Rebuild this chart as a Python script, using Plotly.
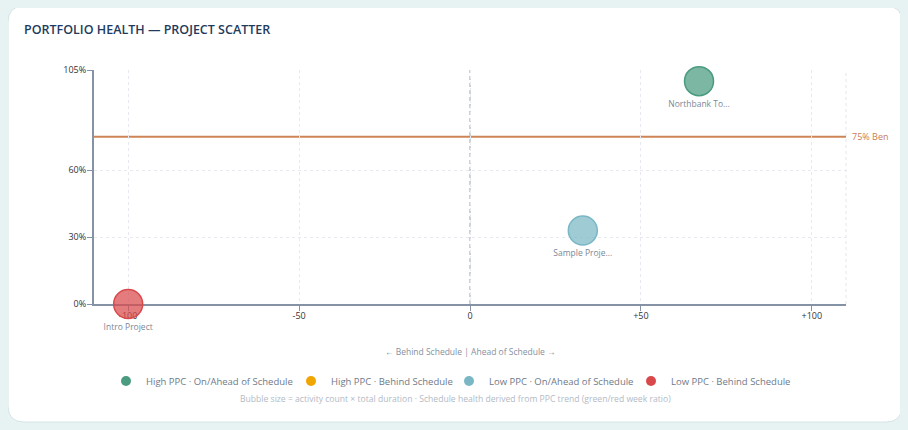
import plotly.graph_objects as go

# Project data
projects = ["Northbank To...", "Sample Proje...", "Intro Project"]
schedule_delta = [67, 33, -100]
ppc_pct = [100, 33, 0]
project_group = ["High PPC · On/Ahead of Schedule",
                 "Low PPC · On/Ahead of Schedule",
                 "Low PPC · Behind Schedule"]

groups = ["High PPC · On/Ahead of Schedule",
          "High PPC · Behind Schedule",
          "Low PPC · On/Ahead of Schedule",
          "Low PPC · Behind Schedule"]

x_ticks = [-100, -50, 0, 50, 100]
x_tick_text = ["-100", "-50", "0", "+50", "+100"]
y_ticks = [0, 30, 60, 105]
y_tick_text = ["0%", "30%", "60%", "105%"]

benchmark = 75
benchmark_label = "75% Ben"

# styles
group_color = {
    "High PPC · On/Ahead of Schedule": "#4a9b7f",
    "High PPC · Behind Schedule": "#f0a500",
    "Low PPC · On/Ahead of Schedule": "#7ab7c5",
    "Low PPC · Behind Schedule": "#d9494c",
}
group_fill = {
    "High PPC · On/Ahead of Schedule": "rgba(74,155,127,0.72)",
    "High PPC · Behind Schedule": "rgba(240,165,0,0.72)",
    "Low PPC · On/Ahead of Schedule": "rgba(122,183,197,0.72)",
    "Low PPC · Behind Schedule": "rgba(217,73,76,0.72)",
}
# screen x of each legend dot in the target picture
legend_dot_px = [130, 315, 473, 655]

FONT = "Open Sans, Noto Sans, sans-serif"
PAGE_BG = "#e7f3f3"
W, H = 908, 430
OFF = 8  # page body margin the figure sits inside
ML, MT = 94 - OFF, 70 - OFF
MR, MB = W - (846 - OFF), H - (304 - OFF)
PW, PH = W - ML - MR, H - MT - MB


def px_x(px):
    # screen px -> paper x
    return (px - OFF - ML) / PW


def px_y(py):
    # screen px -> paper y
    return (H - MB - (py - OFF)) / PH


fig = go.Figure()

# bubbles
for i, name in enumerate(projects):
    g = project_group[i]
    fig.add_trace(go.Scatter(
        x=[schedule_delta[i]], y=[ppc_pct[i]],
        mode="markers+text", text=[name], textposition="bottom center",
        textfont=dict(size=8.5, color="#7d8797", family=FONT),
        marker=dict(size=29, color=group_fill[g],
                    line=dict(color=group_color[g], width=1.5)),
        cliponaxis=False, showlegend=False, hoverinfo="skip"))

# legend entries, one legend each so they sit where the target has them
legend_layouts = {}
for k, g in enumerate(groups):
    lname = "legend" if k == 0 else "legend%d" % (k + 1)
    fig.add_trace(go.Scatter(
        x=[None], y=[None], mode="markers", name=g, legend=lname,
        marker=dict(size=10, color=group_color[g])))
    legend_layouts[lname] = dict(
        orientation="h", x=px_x(legend_dot_px[k] - 24), xanchor="left",
        y=px_y(381), yanchor="middle",
        font=dict(size=9.5, color="#6e7a8a", family=FONT),
        itemclick=False, bgcolor="rgba(0,0,0,0)", borderwidth=0)

# card background
x0, x1 = px_x(8), px_x(902)
y0, y1 = px_y(422), px_y(6)
rx, ry = 16 / PW, 16 / PH
card = (f"M {x0+rx},{y1} L {x1-rx},{y1} Q {x1},{y1} {x1},{y1-ry} "
        f"L {x1},{y0+ry} Q {x1},{y0} {x1-rx},{y0} L {x0+rx},{y0} "
        f"Q {x0},{y0} {x0},{y0+ry} L {x0},{y1-ry} Q {x0},{y1} {x0+rx},{y1} Z")
fig.add_shape(type="path", path=card, xref="paper", yref="paper",
              fillcolor="white", line=dict(color="#d6e4e4", width=1), layer="below")

# right-hand dotted border of grid
fig.add_shape(type="line", xref="paper", yref="y", x0=1, x1=1, y0=0, y1=105,
              line=dict(color="#e3e6ed", width=1, dash="3px,3px"), layer="below")
# zero line
fig.add_shape(type="line", xref="x", yref="y", x0=0, x1=0, y0=0, y1=105,
              line=dict(color="#bcc3cc", width=1.5, dash="4px,3px"), layer="below")
# benchmark
fig.add_shape(type="line", xref="paper", yref="y", x0=0, x1=1,
              y0=benchmark, y1=benchmark,
              line=dict(color="#cf8456", width=2), layer="below")
fig.add_annotation(x=1, y=benchmark, xref="paper", yref="y", xanchor="left",
                   yanchor="middle", xshift=4, text=benchmark_label, showarrow=False,
                   font=dict(size=9, color="#c97c52", family=FONT))

fig.add_annotation(x=px_x(470), y=px_y(351), xref="paper", yref="paper",
                   xanchor="center", yanchor="middle",
                   text="← Behind Schedule | Ahead of Schedule →", showarrow=False,
                   font=dict(size=8.5, color="#8590a0", family=FONT))
fig.add_annotation(x=px_x(455), y=px_y(399), xref="paper", yref="paper",
                   xanchor="center", yanchor="middle",
                   text="Bubble size = activity count × total duration · Schedule health derived from PPC trend (green/red week ratio)",
                   showarrow=False, font=dict(size=8.6, color="#b3bac5", family=FONT))

fig.update_layout(
    width=W, height=H,
    margin=dict(l=ML, r=MR, t=MT, b=MB, autoexpand=False),
    paper_bgcolor=PAGE_BG, plot_bgcolor="rgba(0,0,0,0)",
    font=dict(family=FONT, color="#333"),
    title=dict(text="PORTFOLIO HEALTH — PROJECT SCATTER", xref="container",
               yref="container", x=(24 - OFF) / W, y=1 - (30 - OFF) / H,
               xanchor="left", yanchor="middle",
               font=dict(size=12.5, color="#1f3b5c", family=FONT, weight=600)),
    xaxis=dict(range=[-110, 110], tickvals=x_ticks, ticktext=x_tick_text,
               showgrid=True, gridcolor="#e6e9ef", griddash="3px,3px",
               zeroline=False, showline=True, linecolor="#8592a5", linewidth=2,
               ticks="outside", ticklen=5, tickcolor="#8592a5",
               ticklabelstandoff=-3,
               tickfont=dict(size=9, color="#333"), layer="below traces",
               fixedrange=True),
    yaxis=dict(range=[0, 105], tickvals=y_ticks, ticktext=y_tick_text,
               showgrid=True, gridcolor="#e6e9ef", griddash="3px,3px",
               zeroline=False, showline=True, linecolor="#8592a5", linewidth=2,
               ticks="outside", ticklen=5, tickcolor="#8592a5",
               ticklabelstandoff=-1,
               tickfont=dict(size=9, color="#333"), layer="below traces",
               fixedrange=True),
    showlegend=True,
    **legend_layouts,
)

# page margin around the figure gets the same tint as the figure background
fig.write_html("out.html",
               post_script="document.body.style.background='%s';" % PAGE_BG)
